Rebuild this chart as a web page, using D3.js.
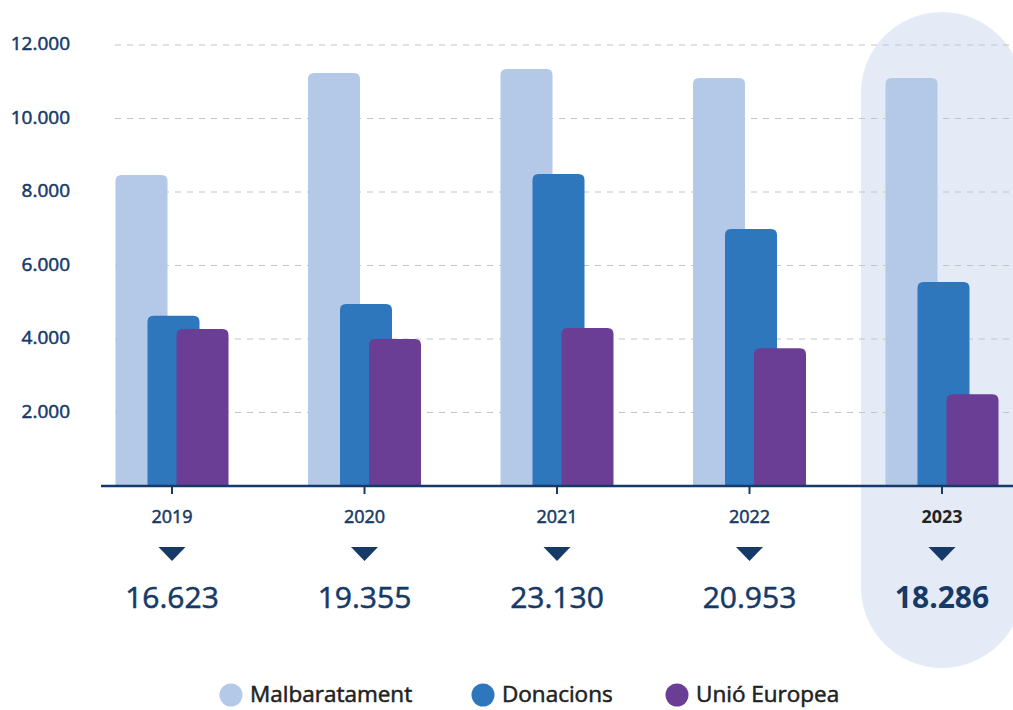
<!DOCTYPE html>
<html lang="ca">
<head>
  <meta charset="UTF-8" />
  <title>Malbaratament, donacions i Unió Europea</title>
  <script src="https://d3js.org/d3.v7.min.js"></script>
  <style>
    html, body {
      margin: 0;
      padding: 0;
      background: #fff;
      font-family: "Open Sans", Lato, sans-serif;
    }
    svg { display: block; }
    .medium { stroke: currentColor; stroke-width: 0.55px; paint-order: stroke; }
    .y-label { font-size: 19px; color: #163a68; fill: #163a68; text-anchor: end; dominant-baseline: middle; }
    .year-label { font-size: 18px; text-anchor: middle; }
    .total-label { font-size: 30px; color: #163a68; fill: #163a68; text-anchor: middle; }
    .legend-label { font-size: 22.5px; color: #222; fill: #222; dominant-baseline: middle; }
  </style>
</head>
<body>
  <svg width="1013" height="710"></svg>

  <script>
    const years = ["2019", "2020", "2021", "2022", "2023"];
    const malbaratament = [8460, 11240, 11350, 11100, 11100];
    const donacions = [4630, 4950, 8490, 6990, 5550];
    const unioEuropea = [4270, 4000, 4300, 3750, 2500];
    const totals = [16623, 19355, 23130, 20953, 18286];
    const yTicks = [2000, 4000, 6000, 8000, 10000, 12000];
    const seriesNames = ["Malbaratament", "Donacions", "Unió Europea"];
    const seriesValues = [malbaratament, donacions, unioEuropea];
    const highlightYear = "2023";

    const colors = ["#b4c8e7", "#2e77bd", "#6b3e96"];
    const navy = "#163a68";

    const svg = d3.select("svg");
    const width = +svg.attr("width");

    const locale = d3.formatLocale({ decimal: ",", thousands: ".", grouping: [3], currency: ["", " €"] });
    const fmt = locale.format(",d");

    const x = d3.scalePoint().domain(years).range([172, 942]);
    const y = d3.scaleLinear().domain([0, 12000]).range([486, 45]);

    // bar offsets relative to the year centre (bars overlap)
    const offset = d3.scaleOrdinal().domain(seriesNames).range([-56.5, -24.5, 4.5]);
    const color = d3.scaleOrdinal().domain(seriesNames).range(colors);
    const barW = 52;

    // highlighted year background
    svg.append("rect")
      .attr("x", x(highlightYear) - 81)
      .attr("y", 12)
      .attr("width", 162)
      .attr("height", 656)
      .attr("rx", 81)
      .attr("fill", "#e5ebf6");

    // gridlines
    svg.append("g")
      .selectAll("line")
      .data(yTicks)
      .join("line")
      .attr("x1", 115)
      .attr("x2", width)
      .attr("y1", d => y(d))
      .attr("y2", d => y(d))
      .attr("stroke", "#c4c4c4")
      .attr("stroke-width", 1.2)
      .attr("stroke-dasharray", "6,6");

    // y labels
    svg.append("g")
      .selectAll("text")
      .data(yTicks)
      .join("text")
      .attr("class", "y-label medium")
      .attr("x", 70)
      .attr("y", d => y(d))
      .text(d => fmt(d));

    // bars with rounded tops
    function topRounded(x0, y0, w, h, r) {
      return `M${x0},${y0 + h}V${y0 + r}Q${x0},${y0} ${x0 + r},${y0}` +
             `H${x0 + w - r}Q${x0 + w},${y0} ${x0 + w},${y0 + r}V${y0 + h}Z`;
    }

    const barData = [];
    seriesNames.forEach((s, si) => {
      years.forEach((yr, i) => barData.push({ series: s, year: yr, value: seriesValues[si][i] }));
    });

    svg.append("g")
      .selectAll("path")
      .data(barData)
      .join("path")
      .attr("fill", d => color(d.series))
      .attr("d", d => topRounded(x(d.year) + offset(d.series), y(d.value), barW, y(0) - y(d.value), 6));

    // x axis line and ticks
    svg.append("line")
      .attr("x1", 101).attr("x2", width)
      .attr("y1", y(0)).attr("y2", y(0))
      .attr("stroke", navy).attr("stroke-width", 2.5);

    svg.append("g")
      .selectAll("line")
      .data(years)
      .join("line")
      .attr("x1", d => x(d)).attr("x2", d => x(d))
      .attr("y1", y(0)).attr("y2", y(0) + 8)
      .attr("stroke", navy).attr("stroke-width", 2);

    // year labels
    svg.append("g")
      .selectAll("text")
      .data(years)
      .join("text")
      .attr("class", d => d === highlightYear ? "year-label" : "year-label medium")
      .attr("x", d => x(d))
      .attr("y", 523)
      .style("color", d => d === highlightYear ? "#222" : navy)
      .style("fill", d => d === highlightYear ? "#222" : navy)
      .style("font-weight", d => d === highlightYear ? "bold" : null)
      .text(d => d);

    // triangles
    svg.append("g")
      .selectAll("path")
      .data(years)
      .join("path")
      .attr("fill", navy)
      .attr("d", d => `M${x(d) - 13.5},547H${x(d) + 13.5}L${x(d)},561Z`);

    // totals
    svg.append("g")
      .selectAll("text")
      .data(years)
      .join("text")
      .attr("class", d => d === highlightYear ? "total-label" : "total-label medium")
      .attr("x", d => x(d))
      .attr("y", 608)
      .style("font-weight", d => d === highlightYear ? "bold" : null)
      .text((d, i) => fmt(totals[i]));

    // legend
    const legendX = [231, 483, 677];
    const legend = svg.append("g")
      .selectAll("g")
      .data(seriesNames)
      .join("g")
      .attr("transform", (d, i) => `translate(${legendX[i]},695)`);

    legend.append("circle")
      .attr("r", 11.5)
      .attr("fill", d => color(d));

    legend.append("text")
      .attr("class", "legend-label medium")
      .attr("x", 19)
      .attr("y", 1)
      .text(d => d);
  </script>
</body>
</html>
